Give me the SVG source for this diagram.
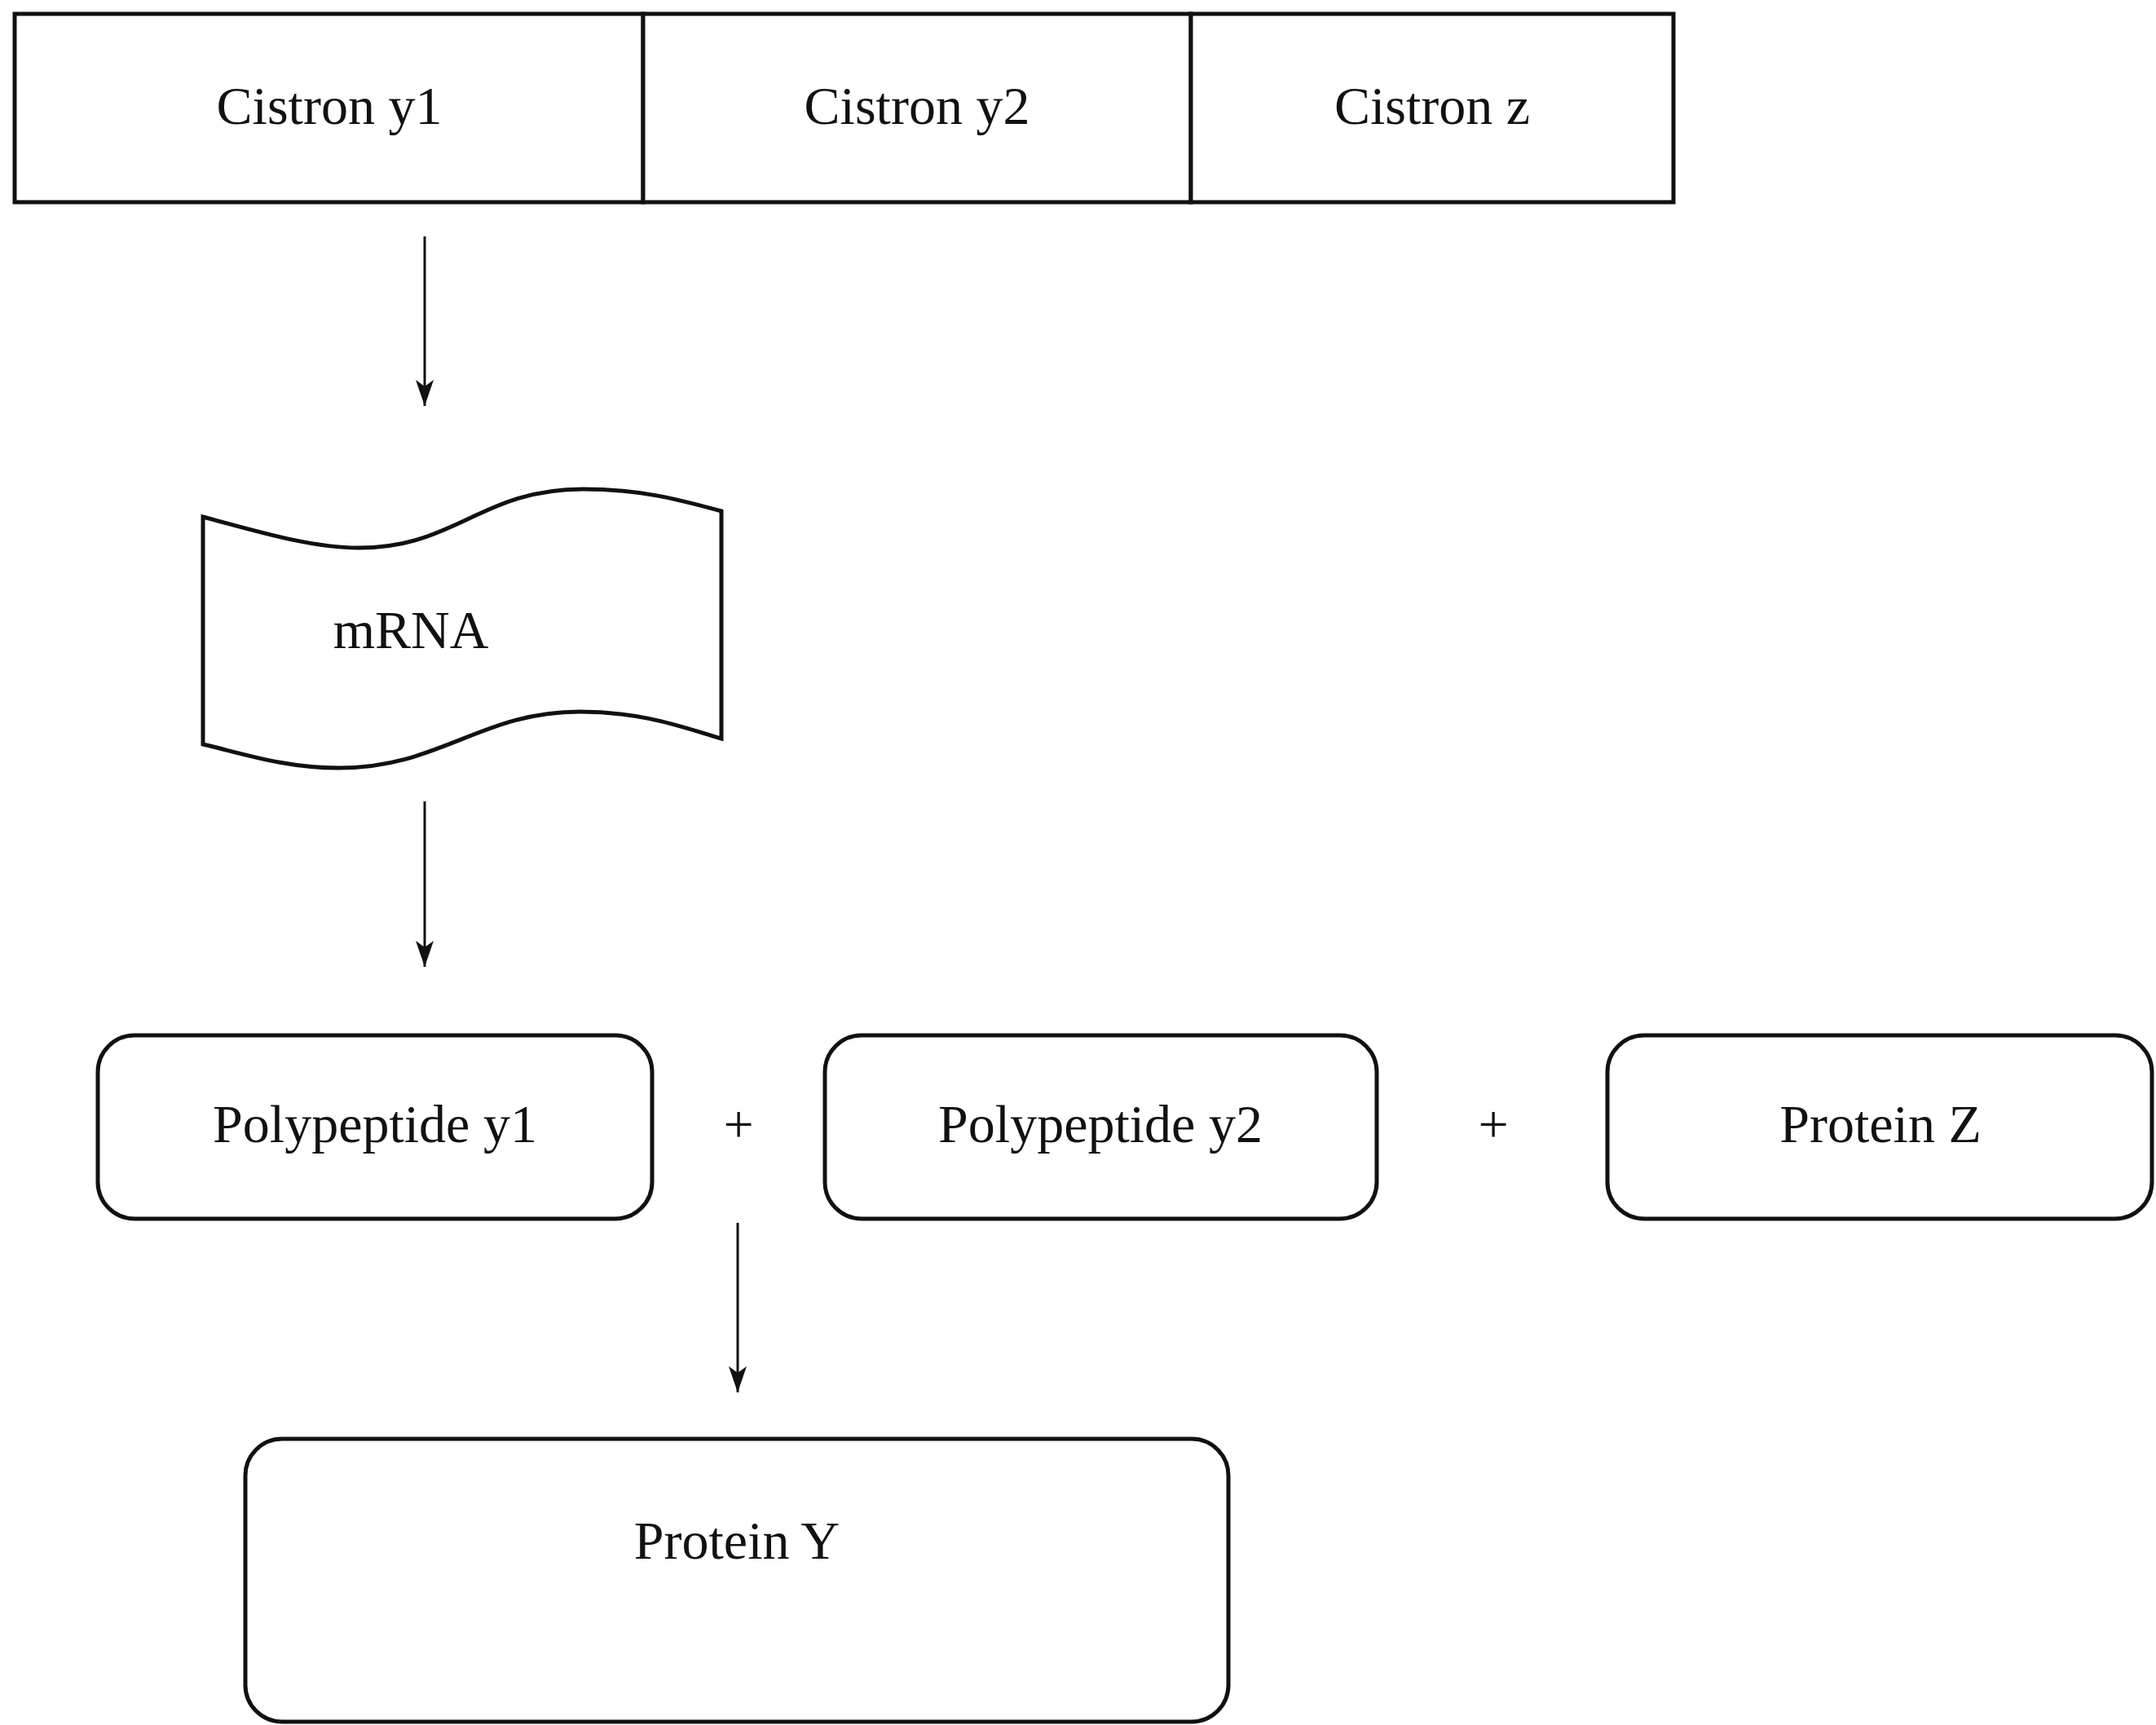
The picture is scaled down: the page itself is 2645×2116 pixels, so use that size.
<svg xmlns="http://www.w3.org/2000/svg" width="2645" height="2116" viewBox="0 0 2645 2116">
<style>
.box{fill:#fff;stroke:#111;stroke-width:5}
.lbl{font-family:"Liberation Serif","Times New Roman",serif;font-size:66px;fill:#111;text-anchor:middle}
.conn{stroke:#111;stroke-width:3;fill:none}
</style>
<defs>
<marker id="ah" markerUnits="userSpaceOnUse" markerWidth="34" markerHeight="24" refX="32" refY="12" orient="auto" viewBox="0 0 34 24">
<path d="M0,1 L32,12 L0,23 L8,12 Z" fill="#111"/>
</marker>
</defs>
<rect width="2645" height="2116" fill="#fff"/>
<g id="cistron-y1">
<rect class="box" x="18" y="17" width="771" height="231"/>
<text class="lbl" x="404" y="152">Cistron y1</text>
</g>
<g id="cistron-y2">
<rect class="box" x="789" y="17" width="672" height="231"/>
<text class="lbl" x="1125" y="152">Cistron y2</text>
</g>
<g id="cistron-z">
<rect class="box" x="1461" y="17" width="592" height="231"/>
<text class="lbl" x="1757" y="152">Cistron z</text>
</g>
<g id="mrna">
<path class="box" stroke-width="4" d="M249,634 C310,650 380,672 440,672 C560,672 590,600 715,600 C790,600 840,615 885,627 L885,906 C840,893 790,873 711,873 C590,873 540,942 416,942 C350,942 300,925 249,913 Z"/>
<text class="lbl" x="504" y="795">mRNA</text>
</g>
<g id="polypeptide-y1">
<rect class="box" x="120" y="1270" width="680" height="225" rx="45" ry="45"/>
<text class="lbl" x="460" y="1401">Polypeptide y1</text>
</g>
<g id="plus-1"><text class="lbl" x="906" y="1401">+</text></g>
<g id="polypeptide-y2">
<rect class="box" x="1012" y="1270" width="677" height="225" rx="45" ry="45"/>
<text class="lbl" x="1350" y="1401">Polypeptide y2</text>
</g>
<g id="plus-2"><text class="lbl" x="1832" y="1401">+</text></g>
<g id="protein-z">
<rect class="box" x="1972" y="1270" width="668" height="225" rx="45" ry="45"/>
<text class="lbl" x="2307" y="1401">Protein Z</text>
</g>
<g id="protein-y">
<rect class="box" x="301" y="1765" width="1206" height="347" rx="45" ry="45"/>
<text class="lbl" x="904" y="1912">Protein Y</text>
</g>
<g id="connectors">
<line class="conn" x1="521" y1="290" x2="521" y2="498" marker-end="url(#ah)"/>
<line class="conn" x1="521" y1="983" x2="521" y2="1186" marker-end="url(#ah)"/>
<line class="conn" x1="905" y1="1500" x2="905" y2="1708" marker-end="url(#ah)"/>
</g>
</svg>
